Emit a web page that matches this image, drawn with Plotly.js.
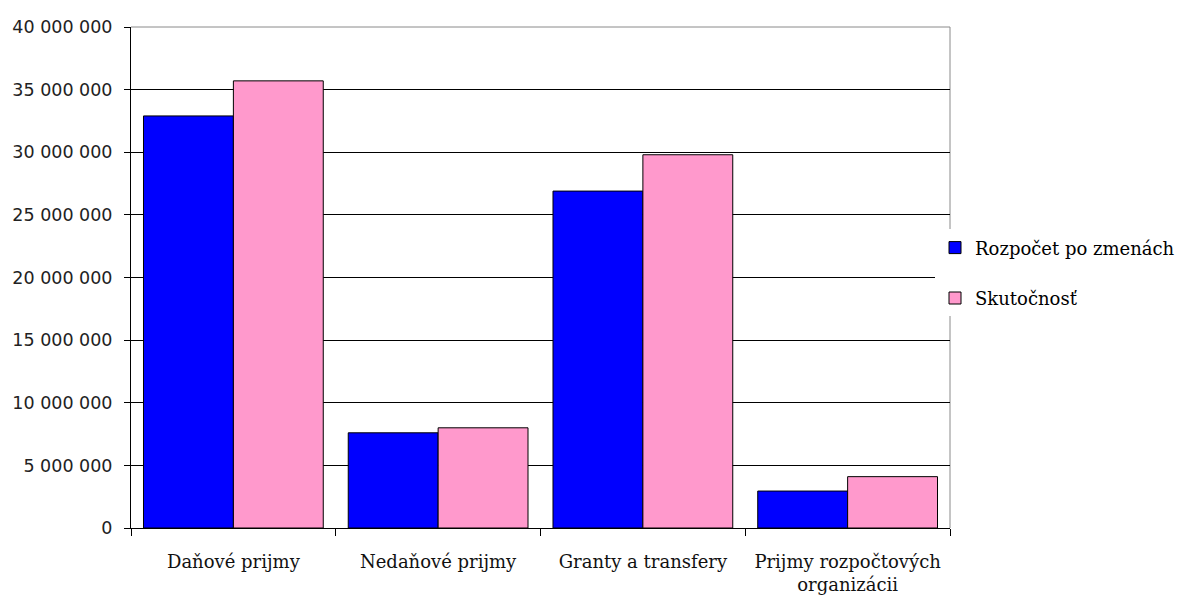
<!DOCTYPE html>
<html>
<head>
<meta charset="utf-8">
<script src="https://cdn.plot.ly/plotly-3.0.1.min.js"></script>
<style>html,body{margin:0;padding:0;background:#fff;}#chart{width:1192px;height:604px;}</style>
</head>
<body>
<div id="chart"></div>
<script>
const categories = ["Daňové prijmy", "Nedaňové prijmy", "Granty a transfery", "Prijmy rozpočtových<br>organizácii"];
const seriesNames = ["Rozpočet po zmenách", "Skutočnosť"];
const rozpocet = [32900000, 7600000, 26900000, 2950000];
const skutocnost = [35700000, 8000000, 29800000, 4100000];
const yTicks = [0, 5000000, 10000000, 15000000, 20000000, 25000000, 30000000, 35000000, 40000000];

const traces = [
  {type: 'bar', name: seriesNames[0], x: categories, y: rozpocet, legendgroup: 'a',
   marker: {color: '#0000FF', line: {color: '#000', width: 1}}, hoverinfo: 'y'},
  {type: 'bar', name: seriesNames[1], x: categories, y: skutocnost, legendgroup: 'b',
   marker: {color: '#FF99CC', line: {color: '#000', width: 1}}, hoverinfo: 'y'}
];

const layout = {
  width: 1192, height: 604,
  margin: {l: 131, r: 240, t: 27, b: 76, pad: 0},
  paper_bgcolor: '#fff', plot_bgcolor: '#fff',
  separators: ', ',
  barmode: 'group', bargap: 0.122, bargroupgap: 0,
  font: {family: 'DejaVu Serif', color: '#000', size: 18},
  xaxis: {
    type: 'category', showline: true, linecolor: '#000', linewidth: 1,
    ticks: 'outside', tickson: 'boundaries', ticklen: 7, tickcolor: '#000',
    tickfont: {family: 'DejaVu Serif', size: 18, color: '#111'},
    ticklabelstandoff: 17, showgrid: false
  },
  yaxis: {
    range: [0, 40000000], tickvals: yTicks, tickformat: ',d',
    showline: true, linecolor: '#000', linewidth: 1,
    ticks: 'outside', ticklen: 6, tickcolor: '#000',
    tickfont: {family: 'DejaVu Sans', size: 17.5, color: '#222'},
    ticklabelstandoff: 8,
    showgrid: true, gridcolor: '#000', gridwidth: 1, zeroline: false
  },
  legend: {
    x: 0.9817, xanchor: 'left', y: 0.596, yanchor: 'top',
    bgcolor: '#fff', borderwidth: 0,
    font: {family: 'DejaVu Serif', size: 18, color: '#000'},
    traceorder: 'grouped', tracegroupgap: 24
  },
  shapes: [
    {type: 'line', xref: 'paper', yref: 'paper', x0: 0, x1: 1, y0: 1, y1: 1, line: {color: '#8a8a8a', width: 1}, layer: 'above'},
    {type: 'line', xref: 'paper', yref: 'paper', x0: 1, x1: 1, y0: 0, y1: 1, line: {color: '#8a8a8a', width: 1}, layer: 'below'}
  ],
  showlegend: true
};

Plotly.newPlot('chart', traces, layout, {displayModeBar: false, staticPlot: true});
</script>
</body>
</html>
